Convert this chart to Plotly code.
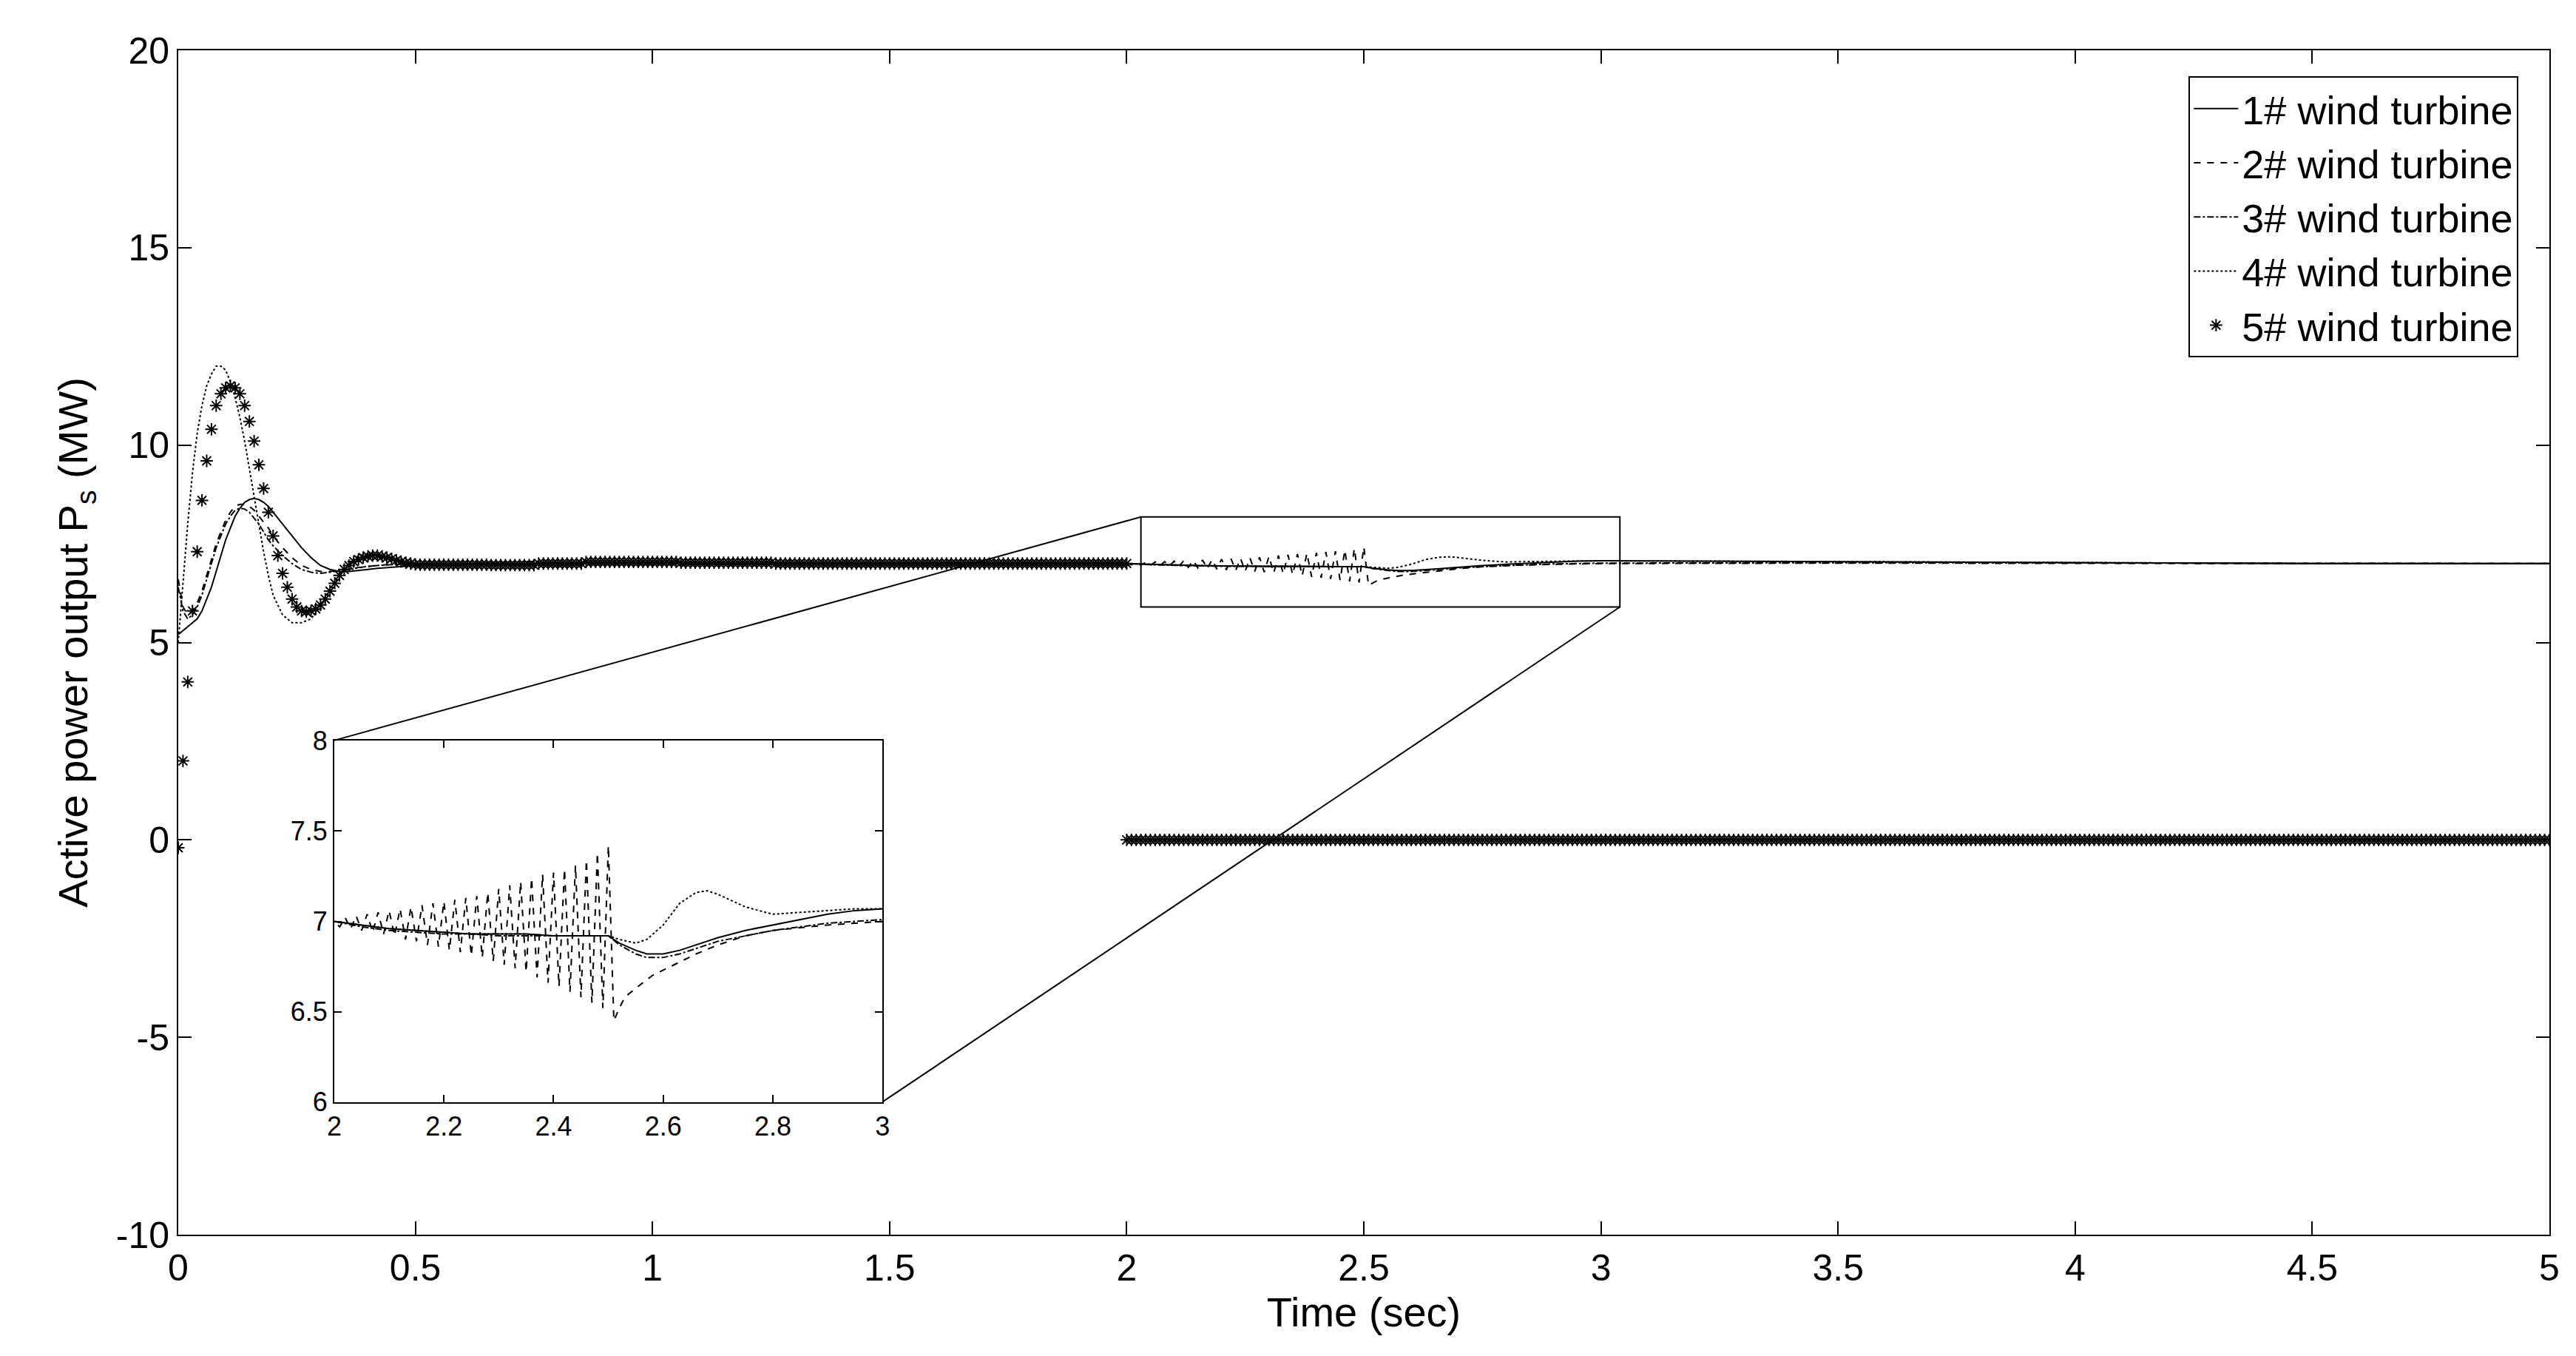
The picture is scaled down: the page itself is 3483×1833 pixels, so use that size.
import plotly.graph_objects as go

# ---------- data ----------
t_early = [0.00,0.01,0.02,0.03,0.04,0.05,0.06,0.07,0.08,0.09,0.10,0.11,0.12,0.13,0.14,0.15,0.16,0.17,0.18,0.19,0.20,
           0.22,0.24,0.26,0.28,0.30,0.32,0.34,0.36,0.38,0.40,0.42,0.44,0.46,0.48,0.50,0.55,0.60,0.65,0.70,0.75,0.80,0.90,1.00,1.20,1.50,1.80,2.00]
s1_early = [5.2,5.3,5.4,5.5,5.6,5.8,6.1,6.4,6.8,7.2,7.6,7.9,8.2,8.4,8.55,8.62,8.65,8.62,8.55,8.45,8.3,
            8.0,7.7,7.4,7.15,6.95,6.85,6.8,6.8,6.82,6.85,6.88,6.9,6.92,6.93,6.95,6.95,6.96,6.97,6.98,6.99,7.0,7.0,7.0,7.0,7.0,7.0,7.0]
s2_early = [6.6,5.9,5.7,5.8,6.0,6.3,6.7,7.1,7.5,7.8,8.1,8.3,8.45,8.5,8.5,8.45,8.35,8.2,8.05,7.9,7.7,
            7.4,7.15,6.95,6.85,6.8,6.8,6.82,6.85,6.9,6.93,6.95,6.97,6.98,6.99,7.0,7.0,7.0,7.0,7.0,7.0,7.0,7.0,7.0,7.0,7.0,7.0,7.0]
s3_early = [6.4,5.8,5.6,5.7,5.9,6.2,6.6,7.0,7.4,7.7,8.0,8.2,8.35,8.4,8.38,8.3,8.15,8.0,7.8,7.6,7.45,
            7.2,7.0,6.85,6.78,6.75,6.78,6.82,6.86,6.9,6.93,6.95,6.97,6.98,6.99,7.0,7.0,7.0,7.0,7.0,7.0,7.0,7.0,7.0,7.0,7.0,7.0,7.0]
s4_early = [5.0,6.5,8.0,9.3,10.3,11.0,11.5,11.8,12.0,12.0,11.9,11.6,11.2,10.7,10.1,9.4,8.7,8.0,7.3,6.7,6.2,
            5.7,5.5,5.5,5.6,5.9,6.3,6.7,7.0,7.2,7.25,7.2,7.1,7.0,6.95,6.95,6.95,6.98,7.02,7.05,7.05,7.02,7.0,7.0,7.0,7.0,7.0,7.0]

t_mid = [2.00,2.05,2.10,2.15,2.20,2.25,2.30,2.35,2.40,2.45,2.50,2.52,2.55,2.57,2.60,2.63,2.66,2.68,2.70,2.75,2.80,2.85,2.90,2.95,3.00,3.50,4.00,4.50,5.00]
s1_mid = [7.0,6.98,6.96,6.95,6.94,6.93,6.93,6.93,6.92,6.92,6.92,6.88,6.84,6.82,6.82,6.84,6.87,6.89,6.91,6.95,6.98,7.01,7.04,7.06,7.07,7.05,7.02,7.0,7.0]
s3_mid = [6.98,6.97,6.95,6.94,6.93,6.93,6.92,6.92,6.92,6.92,6.92,6.87,6.82,6.8,6.8,6.82,6.85,6.87,6.89,6.92,6.95,6.97,6.99,7.0,7.01,7.02,7.01,7.0,7.0]
s4_mid = [7.0,6.98,6.96,6.95,6.94,6.93,6.93,6.93,6.92,6.92,6.92,6.9,6.88,6.9,6.98,7.1,7.16,7.17,7.15,7.08,7.04,7.05,7.06,7.07,7.07,7.05,7.02,7.0,7.0]

t_s2 = [2.00,2.01,2.02,2.03,2.04,2.05,2.06,2.07,2.08,2.09,2.10,2.11,2.12,2.13,2.14,2.15,2.16,2.17,2.18,2.19,
        2.20,2.21,2.22,2.23,2.24,2.25,2.26,2.27,2.28,2.29,2.30,2.31,2.32,2.33,2.34,2.35,2.36,2.37,2.38,2.39,
        2.40,2.41,2.42,2.43,2.44,2.45,2.46,2.47,2.48,2.49,2.50,2.51,2.52,2.53,2.55,2.58,2.62,2.66,2.70,2.75,2.80,2.90,3.00,3.50,4.00,4.50,5.00]
s2_mid = [7.00,6.97,7.02,6.96,7.03,6.95,7.04,6.94,7.05,6.93,7.06,6.92,7.07,6.90,7.08,6.89,7.09,6.87,7.10,6.86,
          7.11,6.84,7.12,6.83,7.13,6.81,7.14,6.80,7.16,6.78,7.18,6.76,7.20,6.74,7.22,6.72,7.24,6.69,7.26,6.66,
          7.27,6.64,7.29,6.61,7.31,6.58,7.34,6.55,7.38,6.52,7.42,6.45,6.52,6.58,6.63,6.70,6.76,6.82,6.87,6.92,6.95,6.98,7.00,7.01,7.0,7.0,7.0]

# turbine 5 (stars): transient, steady ~7 until 2 s, then 0
t5_a = [round(0.01*i, 2) for i in range(0, 51)]
s5_a = [-0.2,2.0,4.0,5.8,7.3,8.6,9.6,10.4,11.0,11.3,11.45,11.5,11.45,11.3,11.0,10.6,10.1,9.5,8.9,8.3,7.7,
        7.2,6.75,6.4,6.1,5.9,5.8,5.78,5.8,5.85,5.95,6.1,6.3,6.5,6.7,6.85,6.95,7.05,7.1,7.15,7.18,7.2,7.2,7.18,7.15,7.12,7.08,7.05,7.02,7.0,6.98]
t5_b = [round(0.5 + 0.01*i, 2) for i in range(1, 151)]
s5_b = [6.97]*15 + [6.96]*10 + [7.0]*10 + [7.04]*20 + [7.02]*20 + [7.0]*75
t5_c = [round(2.0 + 0.01*i, 2) for i in range(0, 301)]
s5_c = [0.0]*301

names = ["1# wind turbine", "2# wind turbine", "3# wind turbine", "4# wind turbine", "5# wind turbine"]
y_ticks = [-10, -5, 0, 5, 10, 15, 20]
y_ticklabels = ["-10", "-5", "0", "5", "10", "15", "20"]

# ---------- figure ----------
FONT = "Liberation Sans, Arial, sans-serif"
fig = go.Figure()
lw = 2
series = [
    (t_early + t_mid[1:], s1_early + s1_mid[1:], "solid"),
    (t_early + t_s2[1:], s2_early + s2_mid[1:], "dash"),
    (t_early + t_mid[1:], s3_early + s3_mid[1:], "dashdot"),
    (t_early + t_mid[1:], s4_early + s4_mid[1:], "dot"),
]
for (x, y, d), nm in zip(series, names[:4]):
    fig.add_trace(go.Scatter(x=x, y=y, mode="lines", name=nm,
                             line=dict(color="black", width=lw, dash=d), xaxis="x", yaxis="y"))
t5 = t5_a + t5_b
s5 = s5_a + s5_b
fig.add_trace(go.Scatter(x=t5 + [None] + t5_c, y=s5 + [None] + s5_c, mode="markers", name=names[4],
                         marker=dict(symbol="asterisk-open", size=14, color="black",
                                     line=dict(color="black", width=2)),
                         xaxis="x", yaxis="y"))

# inset
for (x, y, d) in series:
    fig.add_trace(go.Scatter(x=x, y=y, mode="lines", showlegend=False,
                             line=dict(color="black", width=lw, dash=d), xaxis="x2", yaxis="y2"))

ax = dict(showgrid=False, zeroline=False, mirror="allticks", ticks="inside", ticklen=18,
          linecolor="black", linewidth=2, tickcolor="black", tickwidth=2,
          tickfont=dict(family=FONT, size=50, color="black"))
fig.update_layout(
    width=3483, height=1833, plot_bgcolor="white", paper_bgcolor="white",
    margin=dict(l=233, r=44, t=60, b=172),
    xaxis=dict(ax, range=[0, 5], dtick=0.5, domain=[0, 1],
               title=dict(text="Time (sec)", font=dict(family=FONT, size=56, color="black"), standoff=5)),
    yaxis=dict(ax, range=[-10, 20], tickvals=y_ticks, ticktext=y_ticklabels, domain=[0, 1],
               title=dict(text="Active power output P<sub>s</sub> (MW)", font=dict(family=FONT, size=56, color="black"), standoff=20)),
    xaxis2=dict(ax, range=[2, 3], dtick=0.2, domain=[0.0658, 0.297], anchor="y2", ticklen=10,
                tickfont=dict(family=FONT, size=36, color="black")),
    yaxis2=dict(ax, range=[6, 8], dtick=0.5, domain=[0.112, 0.417], anchor="x2", ticklen=10,
                tickfont=dict(family=FONT, size=36, color="black")),
    legend=dict(x=0.987, y=0.978, xanchor="right", yanchor="top", bgcolor="white",
                bordercolor="black", borderwidth=2, font=dict(family=FONT, size=54, color="black"),
                itemwidth=60, tracegroupgap=0),
    shapes=[
        dict(type="rect", xref="x", yref="y", x0=2.03, x1=3.04, y0=5.9, y1=8.18,
             line=dict(color="black", width=2)),
        dict(type="line", xref="x", yref="y", x0=2.03, y0=8.18, x1=0.329, y1=2.52,
             line=dict(color="black", width=2)),
        dict(type="line", xref="x", yref="y", x0=3.04, y0=5.9, x1=1.486, y1=-6.63,
             line=dict(color="black", width=2)),
    ],
    showlegend=True,
)
fig.write_html("out.html")
